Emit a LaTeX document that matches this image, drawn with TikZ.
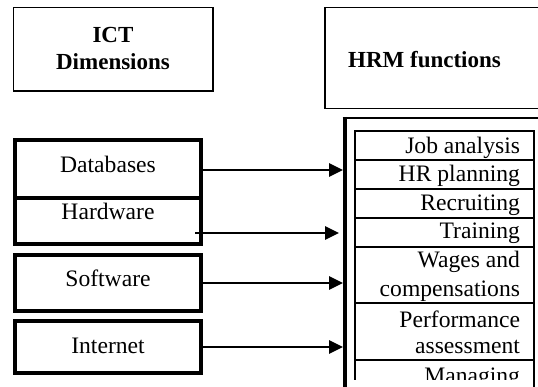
\documentclass[tikz,border=0pt]{standalone}
\usepackage{fontspec}
\setmainfont{Liberation Serif}
\usetikzlibrary{arrows.meta}
\begin{document}
\begin{tikzpicture}[x=1pt,y=-1pt,
  thinbox/.style={draw, line width=1.6pt, inner sep=0pt, outer sep=0pt},
  thickbox/.style={draw, line width=3.8pt, inner sep=0pt, outer sep=0pt, minimum width=186.6pt},
  cell/.style={draw, line width=1.8pt, inner sep=0pt, outer sep=0pt, minimum width=179pt},
  txt/.style={inner sep=0pt, outer sep=0pt, font=\fontsize{23.6}{28}\selectfont},
  btxt/.style={inner sep=0pt, outer sep=0pt, font=\fontsize{23}{28}\selectfont\bfseries},
  arr/.style={line width=1.6pt, -{Triangle[length=14pt,width=13.5pt]}}
]
\useasboundingbox (0,0) rectangle (538,387);
\clip (0,0) rectangle (538,387);
% header boxes
\node[thinbox, minimum width=199.5pt, minimum height=83.5pt] (ict) at (113.25,49.25) {};
\node[btxt, anchor=base] (ictA) at (113,43) {ICT};
\node[btxt, anchor=base] (ictB) at (113,70) {Dimensions};
\node[thinbox, minimum width=235pt, minimum height=101pt] (hrm) at (442.5,58) {};
\node[btxt, anchor=base] (hrmT) at (424.5,68) {HRM functions};
% left boxes
\node[thickbox, minimum height=58pt] (db) at (108,169) {};
\node[txt, anchor=base] (dbT) at (108,173) {Databases};
\node[thickbox, minimum height=46pt] (hw) at (108,221) {};
\node[txt, anchor=base] (hwT) at (108,220) {Hardware};
\node[thickbox, minimum height=56.6pt] (sw) at (108,283) {};
\node[txt, anchor=base] (swT) at (108,287) {Software};
\node[thickbox, minimum height=51.7pt] (in) at (108,347.2) {};
\node[txt, anchor=base] (inT) at (108,353) {Internet};
% frame
\draw[line width=4pt] (344.7,116.8) -- (344.7,392);
\draw[line width=2.4pt] (342.7,118) -- (548,118);
% table
\begin{scope}
\clip (348,124) rectangle (540,379);
\node[cell, minimum height=29pt] (r1) at (444.5,145.5) {};
\node[cell, minimum height=29pt] (r2) at (444.5,174.5) {};
\node[cell, minimum height=29pt] (r3) at (444.5,203.5) {};
\node[cell, minimum height=29pt] (r4) at (444.5,232.5) {};
\node[cell, minimum height=56pt] (r5) at (444.5,275) {};
\node[cell, minimum height=57pt] (r6) at (444.5,331.5) {};
\node[cell, minimum height=40pt] (r7) at (444.5,380) {};
\node[txt, anchor=base east] (t1) at (520,154) {Job analysis};
\node[txt, anchor=base east] (t2) at (520,182) {HR planning};
\node[txt, anchor=base east] (t3) at (520,211) {Recruiting};
\node[txt, anchor=base east] (t4) at (520,239) {Training};
\node[txt, anchor=base east] (t5a) at (520,268) {Wages and};
\node[txt, anchor=base east] (t5b) at (520,297) {compensations};
\node[txt, anchor=base east] (t6a) at (520,327) {Performance};
\node[txt, anchor=base east] (t6b) at (520,353) {assessment};
\node[txt, anchor=base east] (t7) at (520,383) {Managing};
\end{scope}
\draw[line width=1.8pt] (534,379) -- (534,392);
% connectors
\coordinate (e1) at (343,170);
\coordinate (s2) at (195,233);
\coordinate (e2) at (339,233);
\coordinate (e3) at (343,283);
\coordinate (e4) at (343,347);
\draw[arr] (db.east |- e1) -- (e1);
\draw[arr] (s2) -- (e2);
\draw[arr] (sw.east |- e3) -- (e3);
\draw[arr] (in.east |- e4) -- (e4);
\end{tikzpicture}
\end{document}
